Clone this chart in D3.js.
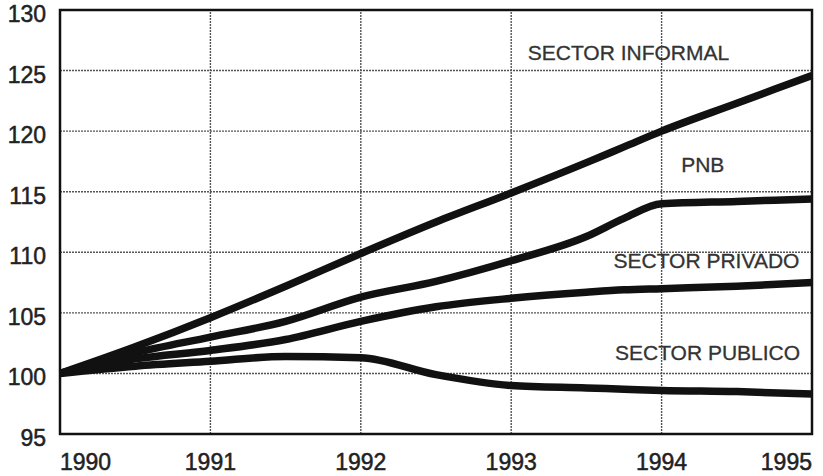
<!DOCTYPE html>
<html>
<head>
<meta charset="utf-8">
<script src="https://cdn.jsdelivr.net/npm/d3@7"></script>
<style>
  body { margin: 0; background: #fff; }
  svg { display: block; font-family: "Liberation Sans", Arial, sans-serif; }
</style>
</head>
<body>
<div id="chart"></div>
<script>
// data
var years = [1990, 1990.5, 1991, 1991.5, 1992, 1992.5, 1993, 1993.5, 1993.75, 1994, 1994.5, 1995];
var informal = [100, 102.2, 104.6, 107.2, 109.9, 112.5, 114.9, 117.4, 118.7, 120, 122.3, 124.6];
var pnb      = [100, 101.7, 103.0, 104.3, 106.3, 107.6, 109.3, 111.3, 112.8, 114.0, 114.2, 114.4];
var privado  = [100, 101.2, 101.9, 102.8, 104.3, 105.5, 106.2, 106.7, 106.9, 107.0, 107.2, 107.5];
var publico  = [100, 100.6, 101.0, 101.4, 101.3, 99.9, 99.0, 98.8, 98.7, 98.6, 98.5, 98.3];

var yTicks = [95, 100, 105, 110, 115, 120, 125, 130];
var xTicks = [1990, 1991, 1992, 1993, 1994, 1995];

var labels = [
  { text: "SECTOR INFORMAL", x: 1993.11, y: 125.9 },
  { text: "PNB", x: 1994.13, y: 116.6 },
  { text: "SECTOR PRIVADO", x: 1993.68, y: 108.7 },
  { text: "SECTOR PUBLICO", x: 1993.69, y: 101.1 }
];

var series = [informal, pnb, privado, publico];

var width = 823, height = 476;
var margin = { top: 10, right: 11, bottom: 42, left: 60 };

var svg = d3.select("#chart").append("svg")
  .attr("width", width)
  .attr("height", height);

var x = d3.scaleLinear().domain([1990, 1995]).range([margin.left, width - margin.right]);
var y = d3.scaleLinear().domain([95, 130]).range([height - margin.bottom, margin.top]);

var grid = svg.append("g")
  .attr("stroke", "#555")
  .attr("stroke-width", 1.4)
  .attr("stroke-dasharray", "2,1");

grid.selectAll(".hgrid")
  .data(yTicks.filter(function(d) { return d > 95 && d < 130; }))
  .enter().append("line")
  .attr("x1", x(1990)).attr("x2", x(1995))
  .attr("y1", function(d) { return y(d); })
  .attr("y2", function(d) { return y(d); });

grid.selectAll(".vgrid")
  .data(xTicks.filter(function(d) { return d > 1990 && d < 1995; }))
  .enter().append("line")
  .attr("y1", y(95)).attr("y2", y(130))
  .attr("x1", function(d) { return x(d); })
  .attr("x2", function(d) { return x(d); });

// series lines
var line = d3.line()
  .x(function(d, i) { return x(years[i]); })
  .y(function(d) { return y(d); })
  .curve(d3.curveMonotoneX);

svg.append("g").selectAll("path")
  .data(series)
  .enter().append("path")
  .attr("d", line)
  .attr("fill", "none")
  .attr("stroke", "#111")
  .attr("stroke-width", 7.5)
  .attr("stroke-linejoin", "round");

// frame
svg.append("rect")
  .attr("x", x(1990)).attr("y", y(130))
  .attr("width", x(1995) - x(1990))
  .attr("height", y(95) - y(130))
  .attr("fill", "none")
  .attr("stroke", "#111")
  .attr("stroke-width", 2.5);

// y axis labels
svg.append("g").selectAll("text")
  .data(yTicks)
  .enter().append("text")
  .attr("x", 46)
  .attr("y", function(d) { return y(d) + 12; })
  .attr("text-anchor", "end")
  .attr("font-size", 23)
  .attr("fill", "#222")
  .attr("stroke", "#222")
  .attr("stroke-width", 0.5)
  .text(function(d) { return d; });

// x axis labels
svg.append("g").selectAll("text")
  .data(xTicks)
  .enter().append("text")
  .attr("x", function(d) { return x(d); })
  .attr("y", 470)
  .attr("text-anchor", function(d, i) {
    return i == 0 ? "start" : (i == xTicks.length - 1 ? "end" : "middle");
  })
  .attr("font-size", 23)
  .attr("fill", "#222")
  .attr("stroke", "#222")
  .attr("stroke-width", 0.5)
  .text(function(d) { return d; });

// series labels
svg.append("g").selectAll("text")
  .data(labels)
  .enter().append("text")
  .attr("x", function(d) { return x(d.x); })
  .attr("y", function(d) { return y(d.y); })
  .attr("font-size", 21)
  .attr("fill", "#333")
  .attr("stroke", "#333")
  .attr("stroke-width", 0.3)
  .text(function(d) { return d.text; });
</script>
</body>
</html>
